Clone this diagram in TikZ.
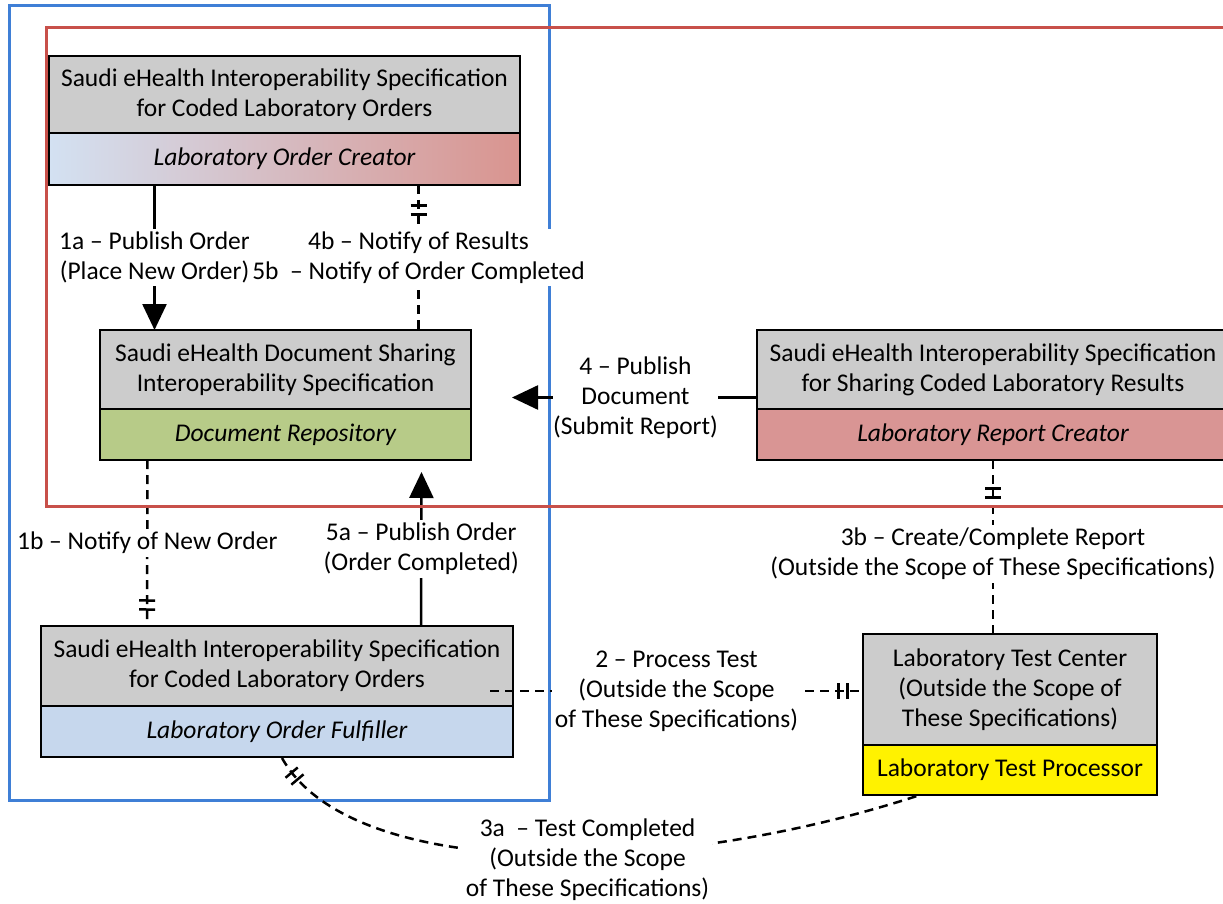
\documentclass[tikz,border=0pt]{standalone}
\usepackage{fontspec}
\setmainfont{Carlito}
\usetikzlibrary{arrows.meta, calc, positioning, decorations.markings}

\definecolor{specgray}{HTML}{CCCCCC}
\definecolor{creatorleft}{HTML}{D3E1F2}
\definecolor{creatorright}{HTML}{D9948F}
\definecolor{repogreen}{HTML}{B7CB88}
\definecolor{reportred}{HTML}{D99594}
\definecolor{fulfillblue}{HTML}{C6D7ED}
\definecolor{frameblue}{HTML}{3F7FD6}
\definecolor{framered}{HTML}{C8504A}

\begin{document}
\begin{tikzpicture}[x=1pt, y=-1pt,
    spec/.style={draw, line width=2pt, outer sep=0pt, inner sep=0pt, align=center, fill=specgray, font=\fontsize{25.5}{30}\selectfont},
    role/.style={draw, line width=2pt, outer sep=0pt, inner sep=0pt, align=center, font=\fontsize{25.5}{30}\selectfont},
    lbl/.style={fill=white, inner sep=3pt, align=center, font=\fontsize{25.5}{30}\selectfont},
    link/.style={line width=2.5pt},
    dashlink/.style={line width=2.5pt, dash pattern=on 9pt off 6pt},
    tip/.style={-{Triangle[width=24pt,length=26pt]}},
    twobar/.style={postaction={decorate, decoration={markings, mark=at position #1 with {\draw[solid, line width=2.5pt] (-4.5pt,-8pt) -- (-4.5pt,8pt) (4.5pt,-8pt) -- (4.5pt,8pt);}}}}]
      \useasboundingbox (0,0) rectangle (1223,904);

      % scope frames
      \draw[frameblue, line width=3pt] (9,6) rectangle (549,800);

      % boxes
      \node[spec, minimum width=471pt, minimum height=77pt] (creatorspec) at (284.5,94.5) {Saudi eHealth Interoperability Specification\\for Coded Laboratory Orders};
      \node[role, minimum width=471pt, minimum height=52pt, left color=creatorleft, right color=creatorright, below=0pt of creatorspec] (creator) {\itshape Laboratory Order Creator};

      \node[spec, minimum width=371pt, minimum height=79pt] (repospec) at (285.5,369.5) {Saudi eHealth Document Sharing\\Interoperability Specification};
      \node[role, minimum width=371pt, minimum height=51pt, fill=repogreen, below=0pt of repospec] (repo) {\itshape Document Repository};

      \node[spec, minimum width=472pt, minimum height=79pt] (reportspec) at (993,369.5) {Saudi eHealth Interoperability Specification\\for Sharing Coded Laboratory Results};
      \node[role, minimum width=472pt, minimum height=51pt, fill=reportred, below=0pt of reportspec] (report) {\itshape Laboratory Report Creator};

      \node[spec, minimum width=472pt, minimum height=80pt] (fulfillspec) at (277,666) {Saudi eHealth Interoperability Specification\\for Coded Laboratory Orders};
      \node[role, minimum width=472pt, minimum height=51pt, fill=fulfillblue, below=0pt of fulfillspec] (fulfill) {\itshape Laboratory Order Fulfiller};

      \node[spec, minimum width=294pt, minimum height=111pt] (testspec) at (1010,689.5) {Laboratory Test Center\\(Outside the Scope of\\These Specifications)};
      \node[role, minimum width=294pt, minimum height=50pt, fill=yellow, below=0pt of testspec] (proc) {Laboratory Test Processor};

      % connectors
      \draw[link, tip] ($(creator.south)+(-130,0)$) -- node[lbl] {1a – Publish Order\\(Place New Order)} ($(repospec.north)+(-131,0)$);
      \draw[dashlink, twobar=25pt] ($(creator.south)+(134,0)$) -- node[lbl] {4b – Notify of Results\\5b\ \ – Notify of Order Completed} ($(repospec.north)+(133,0)$);
      \draw[link, tip] ($(reportspec.west)+(0,28)$) -- node[lbl, inner sep=0pt, xshift=1pt] {4 – Publish\\Document\\(Submit Report)} ($(repospec.east)+(41,28)$);
      \draw[dashlink, twobar=-21pt] ($(repo.south)+(-138,0)$) -- node[lbl] {1b – Notify of New Order} ($(fulfillspec.north)+(-130,0)$);
      \draw[link, tip] ($(fulfillspec.north)+(144,0)$) -- node[lbl] {5a – Publish Order\\(Order Completed)} ($(repo.south)+(136,12)$);
      \draw[dashlink, twobar=-20pt] ($(fulfillspec.east)+(-23,25)$) -- node[lbl] {2 – Process Test\\(Outside the Scope\\of These Specifications)} ($(testspec.west)+(0,1.5)$);
      \draw[dashlink, twobar=33pt] (report.south) -- node[lbl, pos=0.54] {3b – Create/Complete Report\\(Outside the Scope of These Specifications)} (report.south |- testspec.north);
      \draw[dashlink, twobar=22pt] ($(fulfill.south)+(5,1)$) .. controls (350,880) and (660,880) .. node[lbl, pos=0.58, yshift=-5pt] {3a\ \ – Test Completed\\(Outside the Scope\\of These Specifications)} ($(proc.south)+(-90,0)$);

      \draw[framered, line width=3pt] (46,28) rectangle (1240,506);
    \end{tikzpicture}
\end{document}
